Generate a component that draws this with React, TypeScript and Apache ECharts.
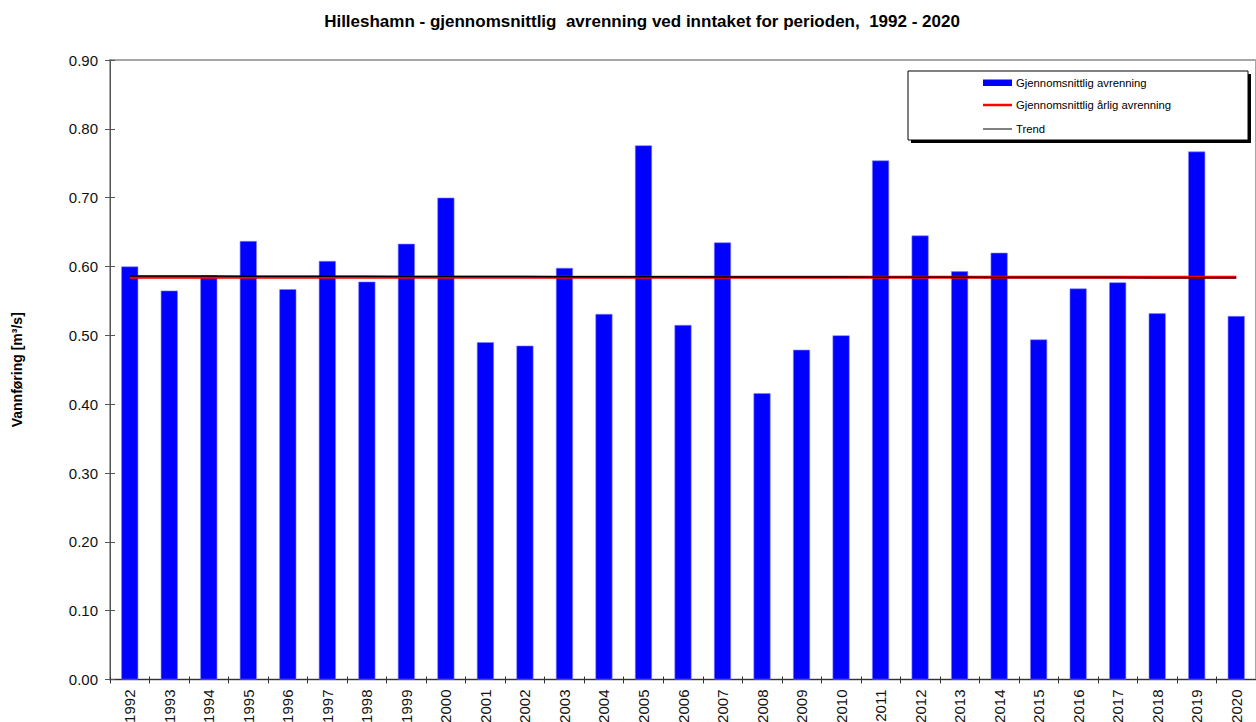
import React, { useEffect, useRef } from "react";
import * as echarts from "echarts";

// Annual mean runoff at the intake, 1992–2020
const years: string[] = [
  "1992", "1993", "1994", "1995", "1996", "1997", "1998", "1999", "2000", "2001",
  "2002", "2003", "2004", "2005", "2006", "2007", "2008", "2009", "2010", "2011",
  "2012", "2013", "2014", "2015", "2016", "2017", "2018", "2019", "2020",
];

const avgRunoff: number[] = [
  0.600, 0.565, 0.587, 0.637, 0.567, 0.608, 0.578, 0.633, 0.700, 0.490,
  0.485, 0.598, 0.531, 0.776, 0.515, 0.635, 0.416, 0.479, 0.500, 0.754,
  0.645, 0.593, 0.620, 0.494, 0.568, 0.577, 0.532, 0.767, 0.528,
];

// Long-term mean level and linear trend end points
const meanLevel = 0.5845;
const trendStart = 0.5863;
const trendEnd = 0.5836;

const yTicks = { min: 0, max: 0.9, interval: 0.1 };

const FONT = "'Liberation Sans', Arial, sans-serif";

export default function App() {
  const ref = useRef<HTMLDivElement>(null);

  useEffect(() => {
    if (!ref.current) return;
    const chart = echarts.init(ref.current, null, { renderer: "svg" });

    const meanData = years.map(() => meanLevel);
    const n = years.length;
    const trendData = years.map((_, i) => trendStart + ((trendEnd - trendStart) * i) / (n - 1));

    const legendX = 908;
    const legendY = 71;
    const swX = 983;
    const textX = 1016;

    chart.setOption({
      animation: false,
      backgroundColor: "#ffffff",
      textStyle: { fontFamily: FONT },
      title: {
        text: "Hilleshamn - gjennomsnittlig  avrenning ved inntaket for perioden,  1992 - 2020",
        left: 637,
        top: 8,
        textAlign: "center",
        textStyle: { fontFamily: FONT, fontSize: 17, fontWeight: "bold", color: "#000" },
      },
      grid: {
        left: 110,
        top: 60,
        width: 1146,
        height: 619.5,
        outerBoundsMode: "none",
        containLabel: false,
        show: true,
        borderColor: "#a6a6a6",
        borderWidth: 2,
        backgroundColor: "transparent",
      },
      xAxis: [
        {
          type: "category",
          data: years,
          boundaryGap: true,
          axisLine: { show: true, lineStyle: { color: "#333", width: 1 } },
          axisTick: { show: true, interval: 0, length: 4, lineStyle: { color: "#333" } },
          axisLabel: {
            interval: 0,
            rotate: 90,
            margin: 10,
            fontSize: 15,
            color: "#111",
            fontFamily: FONT,
          },
          splitLine: { show: false },
        },
        {
          type: "category",
          data: years,
          position: "bottom",
          boundaryGap: true,
          axisLine: { show: false },
          axisTick: { show: true, inside: true, interval: 0, length: 3, lineStyle: { color: "#333" } },
          axisLabel: { show: false },
          splitLine: { show: false },
        },
      ],
      yAxis: [
        {
          type: "value",
          min: yTicks.min,
          max: yTicks.max,
          interval: yTicks.interval,
          name: "Vannføring [m³/s]",
          nameLocation: "middle",
          nameGap: 86,
          nameRotate: 90,
          nameTextStyle: { fontFamily: FONT, fontSize: 14, fontWeight: "bold", color: "#000" },
          axisLine: { show: true, lineStyle: { color: "#555", width: 1 } },
          axisTick: { show: true, length: 5, lineStyle: { color: "#555" } },
          axisLabel: {
            margin: 12,
            fontSize: 15,
            color: "#111",
            fontFamily: FONT,
            formatter: (v: number) => v.toFixed(2),
          },
          splitLine: { show: false },
        },
        {
          type: "value",
          min: yTicks.min,
          max: yTicks.max,
          interval: yTicks.interval,
          position: "left",
          axisLine: { show: false },
          axisTick: { show: true, inside: true, length: 5, lineStyle: { color: "#555" } },
          axisLabel: { show: false },
          splitLine: { show: false },
        },
      ],
      series: [
        {
          name: "Gjennomsnittlig avrenning",
          type: "bar",
          data: avgRunoff,
          barWidth: 17,
          itemStyle: { color: "#0000ff", borderColor: "#8080ff", borderWidth: 0.6 },
          z: 2,
        },
        {
          name: "Gjennomsnittlig årlig avrenning",
          type: "line",
          data: meanData,
          symbol: "none",
          lineStyle: { color: "#ff0000", width: 3 },
          z: 3,
        },
        {
          name: "Trend",
          type: "line",
          data: trendData,
          symbol: "none",
          lineStyle: { color: "#000000", width: 1.5 },
          z: 4,
        },
      ],
      graphic: [
        {
          type: "rect",
          shape: { x: legendX + 3, y: legendY + 3, width: 340, height: 69 },
          style: { fill: "#000" },
          z: 100,
        },
        {
          type: "rect",
          shape: { x: legendX, y: legendY, width: 340, height: 69 },
          style: { fill: "#fff", stroke: "#000", lineWidth: 1 },
          z: 101,
        },
        {
          type: "rect",
          shape: { x: swX, y: 79.5, width: 29, height: 6.5 },
          style: { fill: "#0000ff" },
          z: 102,
        },
        {
          type: "line",
          shape: { x1: swX, y1: 105, x2: swX + 29, y2: 105 },
          style: { stroke: "#ff0000", lineWidth: 2.5 },
          z: 102,
        },
        {
          type: "line",
          shape: { x1: swX, y1: 129, x2: swX + 29, y2: 129 },
          style: { stroke: "#000", lineWidth: 1 },
          z: 102,
        },
        {
          type: "text",
          x: textX,
          y: 83,
          style: { text: "Gjennomsnittlig avrenning", fontSize: 11.3, fontFamily: FONT, fill: "#000", verticalAlign: "middle" },
          z: 102,
        },
        {
          type: "text",
          x: textX,
          y: 105,
          style: { text: "Gjennomsnittlig årlig avrenning", fontSize: 11.3, fontFamily: FONT, fill: "#000", verticalAlign: "middle" },
          z: 102,
        },
        {
          type: "text",
          x: textX,
          y: 129,
          style: { text: "Trend", fontSize: 11.3, fontFamily: FONT, fill: "#000", verticalAlign: "middle" },
          z: 102,
        },
      ],
    });

    return () => chart.dispose();
  }, []);

  return <div ref={ref} style={{ width: 1256, height: 722, position: "absolute", left: 0, top: 0 }} />;
}
